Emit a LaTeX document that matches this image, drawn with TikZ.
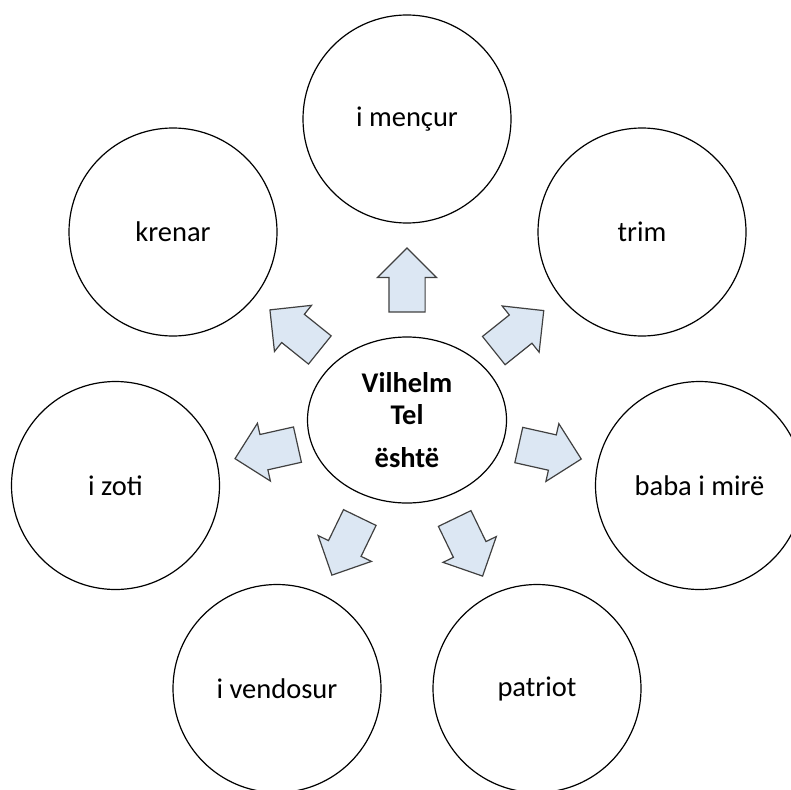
\documentclass[tikz,border=0pt]{standalone}
\usepackage{fontspec}
\setmainfont{Carlito}
\usetikzlibrary{shapes.geometric,shapes.arrows}
\definecolor{arrowblue}{RGB}{220,231,243}
\definecolor{arrowgray}{RGB}{64,64,64}
\tikzset{
  bubble/.style={circle,draw,line width=1.2pt,minimum size=208pt,inner sep=0pt,
    font=\fontsize{28.5}{32}\selectfont},
  blockarr/.style={single arrow,draw=arrowgray,fill=arrowblue,line width=1.2pt,
    minimum height=64pt,single arrow head extend=11.5pt,
    inner xsep=0pt,inner ysep=17.5pt,sloped,allow upside down}
}
\begin{document}
\begin{tikzpicture}[x=1pt,y=-1pt]
\useasboundingbox (0,0) rectangle (791,789);
\node[ellipse,draw,line width=1.2pt,minimum width=199pt,minimum height=166pt,inner sep=0pt,
  align=center,font=\fontsize{28.5}{32}\selectfont\bfseries] (vt) at (407,420) {Vilhelm\\Tel\\[11pt]është};
\node[bubble] (mencur) at (407,119) {i mençur};
\node[bubble] (krenar) at (173,232) {krenar};
\node[bubble] (trim) at (642,232) {trim};
\node[bubble] (zoti) at (115.5,485.5) {i zoti};
\node[bubble] (baba) at (699.5,485.5) {baba i mirë};
\node[bubble] (vendosur) at (277,688.5) {i vendosur};
\node[bubble] (patriot) at (537,688.5) {patriot};
% arrows from the middle
\path (vt) -- node[blockarr,pos=.42] {} (mencur);
\path (vt) -- node[blockarr,pos=.41] {} (krenar);
\path (vt) -- node[blockarr,pos=.40] {} (trim);
\path (vt) -- node[blockarr,pos=.38] {} (zoti);
\path (vt) -- node[blockarr,pos=.40] {} (baba);
\path (vt) -- node[blockarr,pos=.42] {} (vendosur);
\path (vt) -- node[blockarr,pos=.43] {} (patriot);
\end{tikzpicture}
\end{document}
